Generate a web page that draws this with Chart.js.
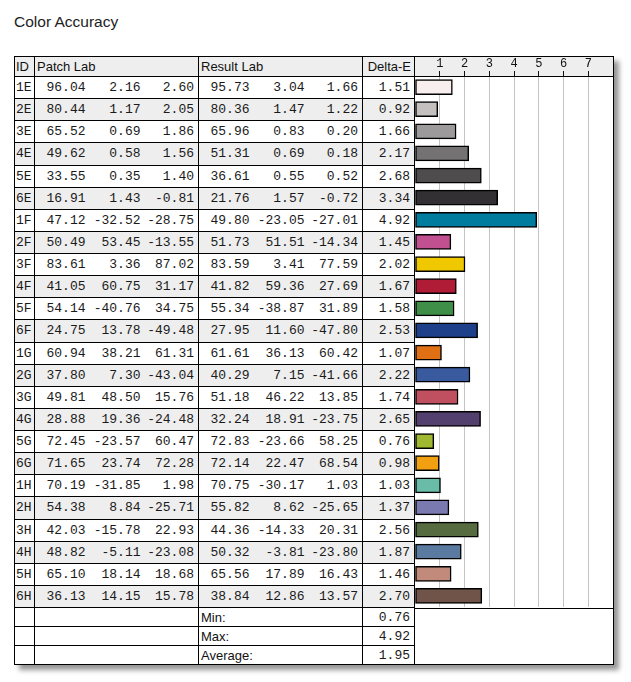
<!DOCTYPE html>
<html>
<head>
<meta charset="utf-8">
<script src="https://cdn.jsdelivr.net/npm/chart.js@4.4.1/dist/chart.umd.min.js"></script>
<style>
html,body{margin:0;padding:0;background:#fff;}
body{width:631px;height:682px;position:relative;overflow:hidden;}
#title{position:absolute;left:14px;top:13px;font-family:"Liberation Sans",Arial,sans-serif;font-size:15.5px;color:#222;}
#wrap{position:absolute;left:14px;top:56px;width:600px;height:609px;box-shadow:5px 5px 5px rgba(0,0,0,0.42);}
table{position:absolute;left:0;top:0;border-collapse:collapse;table-layout:fixed;width:401px;}
td{border:1px solid #000;padding:0;margin:0;overflow:hidden;white-space:nowrap;line-height:13px;}
td.n{font-family:"Liberation Mono","Courier New",monospace;font-size:13px;text-align:right;padding-right:4px;color:#1a1a1a;}
td.id{font-family:"Liberation Mono","Courier New",monospace;font-size:13px;text-align:left;padding-left:1px;color:#1a1a1a;}
td.h{font-family:"Liberation Sans",Arial,sans-serif;font-size:13px;color:#111;padding-left:2px;}
td.hr{text-align:right;padding-right:3px;padding-left:0;}
td.nl{border-right:none;}
td.nm{border-left:none;border-right:none;}
td.nr{border-left:none;}
tr.hd td{background:#eeeeee;height:19px;}
tr.d td{height:21.125px;}
tr.d.g td{background:#eeeeee;}
tr.s td{height:18px;background:#fff;}
#cbox{position:absolute;background:#fff;border:1px solid #000;box-sizing:border-box;}
#cinner{position:absolute;left:0;top:0;border-bottom:1px solid #000;}
canvas{display:block;}
</style>
</head>
<body>
<div id="title">Color Accuracy</div>
<div id="wrap">
  <table id="tbl"><colgroup>
    <col style="width:20px"><col style="width:55px"><col style="width:55px"><col style="width:54px">
    <col style="width:55px"><col style="width:55px"><col style="width:54px"><col style="width:52px">
  </colgroup><tbody id="tb"></tbody></table>
  <div id="cbox"><div id="cinner"><canvas id="c"></canvas></div></div>
</div>
<script>
const ids = ['1E','2E','3E','4E','5E','6E','1F','2F','3F','4F','5F','6F','1G','2G','3G','4G','5G','6G','1H','2H','3H','4H','5H','6H'];
const patchL = [96.04,80.44,65.52,49.62,33.55,16.91,47.12,50.49,83.61,41.05,54.14,24.75,60.94,37.80,49.81,28.88,72.45,71.65,70.19,54.38,42.03,48.82,65.10,36.13];
const patchA = [2.16,1.17,0.69,0.58,0.35,1.43,-32.52,53.45,3.36,60.75,-40.76,13.78,38.21,7.30,48.50,19.36,-23.57,23.74,-31.85,8.84,-15.78,-5.11,18.14,14.15];
const patchB = [2.60,2.05,1.86,1.56,1.40,-0.81,-28.75,-13.55,87.02,31.17,34.75,-49.48,61.31,-43.04,15.76,-24.48,60.47,72.28,1.98,-25.71,22.93,-23.08,18.68,15.78];
const resultL = [95.73,80.36,65.96,51.31,36.61,21.76,49.80,51.73,83.59,41.82,55.34,27.95,61.61,40.29,51.18,32.24,72.83,72.14,70.75,55.82,44.36,50.32,65.56,38.84];
const resultA = [3.04,1.47,0.83,0.69,0.55,1.57,-23.05,51.51,3.41,59.36,-38.87,11.60,36.13,7.15,46.22,18.91,-23.66,22.47,-30.17,8.62,-14.33,-3.81,17.89,12.86];
const resultB = [1.66,1.22,0.20,0.18,0.52,-0.72,-27.01,-14.34,77.59,27.69,31.89,-47.80,60.42,-41.66,13.85,-23.75,58.25,68.54,1.03,-25.65,20.31,-23.80,16.43,13.57];
const deltaE = [1.51,0.92,1.66,2.17,2.68,3.34,4.92,1.45,2.02,1.67,1.58,2.53,1.07,2.22,1.74,2.65,0.76,0.98,1.03,1.37,2.56,1.87,1.46,2.70];
const barColors = ['#f8eeee','#c4c0c0','#9c9a9a','#747272','#4e4c4c','#333034','#007c9e','#c0508f','#f0c800','#b01c36','#3f8f48','#1e3f8a','#e07014','#3a5aa0','#c05060','#54406e','#a0b830','#f0a010','#68bca8','#7a7ab0','#566b40','#5a7aa0','#c28a7a','#70544a'];
const headers = ['ID','Patch Lab','Result Lab','Delta-E'];
const summaryLabels = ['Min:','Max:','Average:'];
const summaryValues = ['0.76','4.92','1.95'];
const xTicks = [1,2,3,4,5,6,7];
const xMin = 0, xMax = 8;

const tb = document.getElementById('tb');
const f = v => v.toFixed(2);
let html = '<tr class="hd"><td class="h" style="padding-left:1px">'+headers[0]+'</td><td class="h" colspan="3">'+headers[1]+'</td><td class="h" colspan="3">'+headers[2]+'</td><td class="h hr">'+headers[3]+'</td></tr>';
ids.forEach((id,i)=>{
  html += '<tr class="d'+(i%2?' g':'')+'"><td class="id">'+id+'</td>'+
    '<td class="n nl">'+f(patchL[i])+'</td><td class="n nm">'+f(patchA[i])+'</td><td class="n nr">'+f(patchB[i])+'</td>'+
    '<td class="n nl">'+f(resultL[i])+'</td><td class="n nm">'+f(resultA[i])+'</td><td class="n nr">'+f(resultB[i])+'</td>'+
    '<td class="n">'+f(deltaE[i])+'</td></tr>';
});
summaryLabels.forEach((l,i)=>{
  html += '<tr class="s"><td></td><td colspan="3"></td><td class="h" colspan="3">'+l+'</td><td class="n">'+summaryValues[i]+'</td></tr>';
});
tb.innerHTML = html;

// geometry from the table
const wrapR = document.getElementById('wrap').getBoundingClientRect();
const rows = tb.querySelectorAll('tr');
const tblR = document.getElementById('tbl').getBoundingClientRect();
const hdR = rows[0].getBoundingClientRect();
const lastR = rows[ids.length].getBoundingClientRect();
const cbox = document.getElementById('cbox');
const left = Math.round(tblR.right - wrapR.left) - 1;
cbox.style.left = left + 'px';
cbox.style.top = '0px';
cbox.style.width = (600 - left) + 'px';
cbox.style.height = Math.round(tblR.height) + 'px';
document.getElementById('wrap').style.height = Math.round(tblR.height) + 'px';
const innerW = 600 - left - 2;
const canvasTop = 1;
const axisLine = Math.round(hdR.bottom - wrapR.top);
const bottomLine = Math.round(lastR.bottom - wrapR.top);
const cH = bottomLine - canvasTop;
const cinner = document.getElementById('cinner');
cinner.style.width = innerW + 'px';
cinner.style.height = cH + 'px';
const cv = document.getElementById('c');
cv.style.width = innerW + 'px';
cv.style.height = (cH - 1) + 'px';
cv.width = innerW; cv.height = cH - 1;
const axisH = axisLine - canvasTop - 1;

const onGrid = c => c.tick && c.tick.value > xMin && c.tick.value < xMax;

new Chart(cv.getContext('2d'), {
  type: 'bar',
  data: { labels: ids, datasets: [{ data: deltaE, backgroundColor: barColors, borderColor: '#000', borderWidth: 1.5, borderSkipped: false, barThickness: 15 }] },
  options: {
    indexAxis: 'y', responsive: false, animation: false, maintainAspectRatio: false,
    layout: { padding: 0 },
    plugins: { legend: { display: false }, tooltip: { enabled: false } },
    scales: {
      x: {
        position: 'top', min: xMin, max: xMax,
        afterBuildTicks: s => { s.ticks = [xMin].concat(xTicks, [xMax]).map(v => ({ value: v })); },
        afterFit: s => { s.height = axisH; s.paddingLeft = 0; s.paddingRight = 0; },
        ticks: { autoSkip: false, maxRotation: 0, padding: 0, color: '#111',
          font: { family: '"Liberation Mono", "Courier New", monospace', size: 12 },
          callback: v => (v > xMin && v < xMax) ? String(v) : '' },
        grid: { color: c => onGrid(c) ? '#c4c4c4' : 'rgba(0,0,0,0)', tickColor: c => onGrid(c) ? '#111' : 'rgba(0,0,0,0)', tickLength: 5, lineWidth: 1 },
        border: { display: true, color: '#000', width: 1 }
      },
      y: { display: false, grid: { display: false } }
    }
  },
  plugins: [{ id: 'hdrbg', beforeDraw(chart) { const c = chart.ctx; c.save(); c.fillStyle = '#eeeeee'; c.fillRect(0, 0, chart.width, chart.chartArea.top); c.restore(); } }]
});
</script>
</body>
</html>
